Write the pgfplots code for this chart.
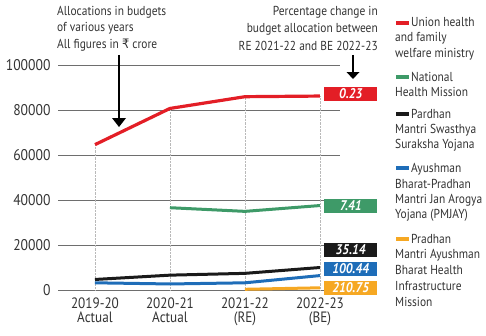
\documentclass[border=0pt]{standalone}
\usepackage{fontspec}
\setmainfont{PT Sans}[FakeStretch=0.88]
\newfontfamily\rupeefont{DejaVu Sans}[FakeStretch=0.88]
\usepackage{pgfplots}
\pgfplotsset{compat=1.18}
\definecolor{cred}{HTML}{E31E26}
\definecolor{cgreen}{HTML}{3E9A68}
\definecolor{cblack}{HTML}{1A1A1A}
\definecolor{cblue}{HTML}{1E6DB8}
\definecolor{corange}{HTML}{F6A823}
\definecolor{ctext}{HTML}{333333}
\definecolor{cgrid}{HTML}{6E6E6E}
\begin{document}
\begin{tikzpicture}[font=\fontsize{13}{16}\selectfont, text=ctext]
\path[use as bounding box] (-58pt,-45pt) rectangle (428pt,290pt);
\begin{axis}[
  scale only axis, width=282pt, height=225pt,
  at={(0pt,0pt)}, anchor=south west,
  xmin=-0.493, xmax=3.267, ymin=0, ymax=100000,
  axis line style={draw=none},
  major tick length=0pt,
  ytick={0,20000,40000,60000,80000,100000},
  scaled y ticks=false,
  /pgf/number format/assume math mode=true,
  yticklabel style={/pgf/number format/fixed, /pgf/number format/1000 sep={}, font=\fontsize{15.5}{16}\selectfont, text=ctext, anchor=east, xshift=-4pt},
  xtick={0,1,2,3},
  xticklabels={{2019-20\\Actual},{2020-21\\Actual},{2021-22\\(RE)},{2022-23\\(BE)}},
  xticklabel style={align=center, font=\fontsize{15}{14}\selectfont, text=ctext, anchor=north, yshift=-4pt},
  ymajorgrids, grid style={cgrid, line width=0.6pt},
  clip=false,
]
\addplot[ycomb, gray!55, line width=0.4pt, densely dotted, no marks] coordinates {(0,64609) (1,80694) (2,85915) (3,86201)};
\addplot[cred, line width=3.2pt, no marks] coordinates {(0,64609) (1,80694) (2,85915) (3,86201)};
\addplot[cgreen, line width=3pt, no marks] coordinates {(1,36576) (2,34947) (3,37540)};
\addplot[corange, line width=3pt, no marks] coordinates {(2,315) (3,979)};
\addplot[cblue, line width=3pt, no marks] coordinates {(0,3200) (1,2681) (2,3199) (3,6412)};
\addplot[cblack, line width=3pt, no marks] coordinates {(0,4683) (1,6600) (2,7400) (3,10000)};
\begin{scope}[every node/.style={anchor=west, minimum width=53pt, minimum height=14pt, inner sep=0pt, text=white, font=\fontsize{14}{14}\selectfont\bfseries\itshape, xshift=4pt}]
\node[fill=cred] at (axis cs:3,87111) {0.23};
\node[fill=cgreen] at (axis cs:3,37556) {7.41};
\node[fill=cblack] at (axis cs:3,18000) {35.14};
\node[fill=cblue] at (axis cs:3,9333) {100.44};
\node[fill=corange] at (axis cs:3,1111) {210.75};
\end{scope}
\end{axis}
% top-left annotation
\node[anchor=base west, inner sep=0pt, align=left] at (-1pt,274pt) {Allocations in budgets};
\node[anchor=base west, inner sep=0pt] at (-1pt,258pt) {of various years};
\node[anchor=base west, inner sep=0pt] at (-1pt,241pt) {All figures in {\rupeefont ₹} crore};
\draw[line width=1.3pt, black] (61pt,235pt) -- (61pt,170pt);
\fill[black] (54pt,172pt) -- (68pt,172pt) -- (61pt,163pt) -- cycle;
% top-right annotation
\node[anchor=base east, inner sep=0pt] at (320pt,274pt) {Percentage change in};
\node[anchor=base east, inner sep=0pt] at (320pt,257pt) {budget allocation between};
\node[anchor=base east, inner sep=0pt] at (320pt,239pt) {RE 2021-22 and BE 2022-23};
\draw[line width=1.3pt, black] (295pt,235pt) -- (295pt,216pt);
\fill[black] (288.5pt,218pt) -- (301.5pt,218pt) -- (295pt,211pt) -- cycle;
% legend
\begin{scope}[every node/.style={anchor=base west, inner sep=0pt}]
\fill[cred] (338pt,265pt) rectangle (351pt,269pt);
\node at (353pt,263pt) {Union health};
\node at (337pt,248pt) {and family};
\node at (337pt,233pt) {welfare ministry};
\fill[cgreen] (338pt,211pt) rectangle (351pt,215pt);
\node at (353pt,209pt) {National};
\node at (337pt,194pt) {Health Mission};
\fill[cblack] (338pt,174pt) rectangle (351pt,178pt);
\node at (353pt,172pt) {Pardhan};
\node at (337pt,157pt) {Mantri Swasthya};
\node at (337pt,142pt) {Suraksha Yojana};
\fill[cblue] (338pt,120pt) rectangle (351pt,124pt);
\node at (353pt,118pt) {Ayushman};
\node at (337pt,102pt) {Bharat-Pradhan};
\node at (337pt,87pt) {Mantri Jan Arogya};
\node at (337pt,72pt) {Yojana (PMJAY)};
\fill[corange] (338pt,49pt) rectangle (351pt,53pt);
\node at (353pt,47pt) {Pradhan};
\node at (337pt,32pt) {Mantri Ayushman};
\node at (337pt,16pt) {Bharat Health};
\node at (337pt,0pt) {Infrastructure};
\node at (337pt,-16pt) {Mission};
\end{scope}
\end{tikzpicture}
\end{document}
